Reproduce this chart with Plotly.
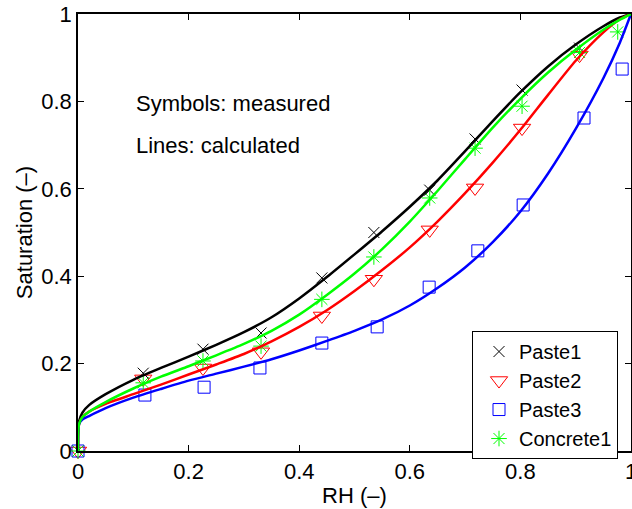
import plotly.graph_objects as go

# measured data (symbols)
rh_meas = [0, 0.118, 0.226, 0.331, 0.441, 0.535, 0.636, 0.718, 0.803, 0.907]
paste1_meas = [0, 0.178, 0.233, 0.27, 0.396, 0.50, 0.597, 0.714, 0.826, 0.922]
paste2_meas = [0, 0.165, 0.19, 0.227, 0.309, 0.393, 0.506, 0.602, 0.739, 0.906]
rh_meas3 = [0, 0.121, 0.228, 0.329, 0.441, 0.541, 0.635, 0.723, 0.805, 0.915, 0.984]
paste3_meas = [0, 0.128, 0.146, 0.19, 0.247, 0.284, 0.375, 0.458, 0.563, 0.762, 0.874]
rh_meas4 = [0, 0.118, 0.226, 0.331, 0.441, 0.535, 0.636, 0.718, 0.803, 0.907, 0.976]
concrete1_meas = [0, 0.156, 0.206, 0.24, 0.347, 0.444, 0.579, 0.693, 0.789, 0.912, 0.959]

# calculated curves (lines)
rh_calc = [0, 0.0003, 0.002, 0.008, 0.02, 0.05, 0.1, 0.15, 0.2, 0.25, 0.3, 0.35, 0.4,
           0.45, 0.5, 0.55, 0.6, 0.65, 0.7, 0.75, 0.8, 0.85, 0.9, 0.95, 0.98, 1.0]
paste1_calc = [0, 0.045, 0.068, 0.088, 0.105, 0.13, 0.163, 0.19, 0.216, 0.243, 0.272, 0.306,
               0.349, 0.398, 0.45, 0.503, 0.559, 0.619, 0.686, 0.755, 0.821, 0.88, 0.93,
               0.972, 0.992, 1.0]
paste2_calc = [0, 0.04, 0.062, 0.078, 0.09, 0.108, 0.13, 0.152, 0.175, 0.198, 0.222, 0.251,
               0.284, 0.322, 0.366, 0.414, 0.466, 0.525, 0.59, 0.66, 0.735, 0.815, 0.893,
               0.958, 0.988, 1.0]
paste3_calc = [0, 0.045, 0.062, 0.072, 0.08, 0.098, 0.122, 0.142, 0.161, 0.177, 0.193, 0.21,
               0.23, 0.252, 0.275, 0.301, 0.333, 0.373, 0.42, 0.478, 0.548, 0.635, 0.737,
               0.853, 0.935, 1.0]
concrete1_calc = [0, 0.04, 0.062, 0.078, 0.09, 0.112, 0.143, 0.17, 0.194, 0.219, 0.245, 0.275,
                  0.312, 0.357, 0.406, 0.462, 0.525, 0.595, 0.668, 0.74, 0.806, 0.866, 0.918,
                  0.964, 0.987, 1.0]

names = ["Paste1", "Paste2", "Paste3", "Concrete1"]
colors = ["#000000", "#ff0000", "#0000ff", "#00ff00"]
symbols = ["x-thin-open", "triangle-down-open", "square-open", "asterisk-open"]
sizes = [11, 15, 12, 13]
meas_x = [rh_meas, rh_meas, rh_meas3, rh_meas4]
meas_y = [paste1_meas, paste2_meas, paste3_meas, concrete1_meas]
calc_y = [paste1_calc, paste2_calc, paste3_calc, concrete1_calc]

FONT = "Liberation Sans, Arial, sans-serif"

fig = go.Figure()
for n, c, s, sz, mx, my in zip(names, colors, symbols, sizes, meas_x, meas_y):
    fig.add_trace(go.Scatter(
        x=mx, y=my, mode="markers", name=n,
        marker=dict(symbol=s, size=sz, color=c, line=dict(color=c, width=1)),
        cliponaxis=False,
    ))
for n, c, cy in zip(names, colors, calc_y):
    fig.add_trace(go.Scatter(
        x=rh_calc, y=cy, mode="lines", name=n + " calc", showlegend=False,
        line=dict(color=c, width=2.5, shape="spline", smoothing=0.6),
    ))

axis_common = dict(
    range=[0, 1], dtick=0.2, tick0=0, ticks="inside", ticklen=6, tickwidth=1,
    tickcolor="black", showline=True, linecolor="black", linewidth=1.5,
    mirror="allticks", showgrid=False, zeroline=False, automargin=False,
    tickfont=dict(family=FONT, size=22, color="black"),
)

fig.update_layout(
    width=632, height=509,
    margin=dict(l=78, r=1, t=14, b=58, autoexpand=False),
    paper_bgcolor="white", plot_bgcolor="white",
    font=dict(family=FONT, size=22, color="black"),
    xaxis=dict(axis_common, ticklabeloverflow="allow",
               title=dict(text="RH (–)", standoff=4, font=dict(family=FONT, size=22))),
    yaxis=dict(axis_common,
               title=dict(text="Saturation (–)", standoff=3, font=dict(family=FONT, size=22))),
    legend=dict(x=0.7125, y=0.2745, xanchor="left", yanchor="top",
                bgcolor="white", bordercolor="black", borderwidth=1,
                font=dict(family=FONT, size=20, color="black"),
                indentation=6, tracegroupgap=0),
    annotations=[
        dict(x=0.101, y=0.796, xref="x", yref="y", text="Symbols: measured",
             showarrow=False, xanchor="left", yanchor="middle",
             font=dict(family=FONT, size=22, color="black")),
        dict(x=0.101, y=0.698, xref="x", yref="y", text="Lines: calculated",
             showarrow=False, xanchor="left", yanchor="middle",
             font=dict(family=FONT, size=22, color="black")),
    ],
)

fig.write_html(
    "out.html",
    config={"displayModeBar": False},
    post_script="document.body.style.margin='0';document.body.style.overflow='hidden';",
)
